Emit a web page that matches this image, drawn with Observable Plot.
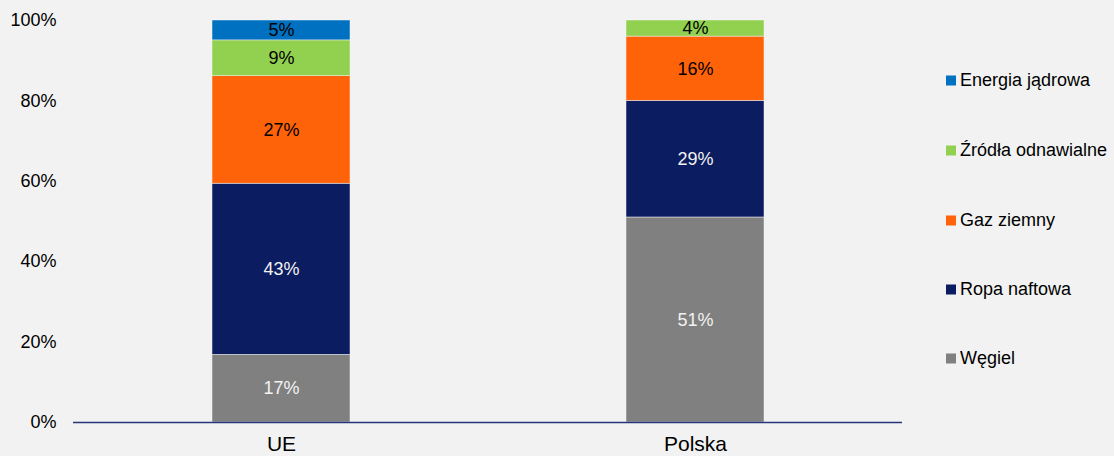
<!DOCTYPE html>
<html>
<head>
<meta charset="utf-8">
<script src="https://cdn.jsdelivr.net/npm/d3@7"></script>
<script src="https://cdn.jsdelivr.net/npm/@observablehq/plot@0.6"></script>
<style>
  html, body { margin: 0; padding: 0; background: #f2f2f2; }
  #wrap { position: relative; width: 1114px; height: 456px; font-family: "Liberation Sans", Arial, sans-serif; }
  #chart { position: absolute; left: 0; top: 0; }
  #legend { position: absolute; left: 946px; top: 0; }
  .item { position: absolute; left: 0; display: flex; align-items: center; white-space: nowrap; font-size: 18px; color: #000; transform: translateY(-50%); }
  .sw { width: 10px; height: 10px; margin-right: 4px; }
</style>
</head>
<body>
<div id="wrap"><div id="chart"></div><div id="legend"></div></div>
<script>
const regions = ["UE", "Polska"];
const sources = ["Węgiel", "Ropa naftowa", "Gaz ziemny", "Źródła odnawialne", "Energia jądrowa"];
const colors = ["#808080", "#0b1c60", "#ff6309", "#92d050", "#0070c0"];
const ueValues = [17, 43, 27, 9, 5];
const plValues = [51, 29, 16, 4, 0];
const yTicks = [0, 0.2, 0.4, 0.6, 0.8, 1];
const legendOrder = ["Energia jądrowa", "Źródła odnawialne", "Gaz ziemny", "Ropa naftowa", "Węgiel"];

const rows = [];
sources.forEach((s, i) => {
  rows.push({region: regions[0], source: s, value: ueValues[i]});
});
sources.forEach((s, i) => {
  rows.push({region: regions[1], source: s, value: plValues[i]});
});
const data = rows.filter(d => d.value > 0);
const light = new Set(["Węgiel", "Ropa naftowa"]);

const stackOpts = {offset: "normalize", order: null};
const chart = Plot.plot({
  width: 920,
  height: 456,
  marginLeft: 73,
  marginRight: 18,
  marginTop: 20,
  marginBottom: 34,
  style: {background: "transparent", fontFamily: "Liberation Sans, Arial, sans-serif", fontSize: "18px", color: "#000"},
  x: {domain: regions, paddingInner: 0.667, paddingOuter: 0.3335, label: null},
  y: {domain: [0, 1], label: null},
  color: {domain: sources, range: colors},
  marks: [
    Plot.axisY({ticks: yTicks, tickFormat: d3.format(".0%"), tickSize: 0, tickPadding: 17, fontSize: 18, label: null}),
    Plot.axisX({tickSize: 0, tickPadding: 14, fontSize: 21, label: null}),
    Plot.barY(data, Plot.stackY(stackOpts, {x: "region", y: "value", z: "source", fill: "source", stroke: "#f2f2f2", strokeWidth: 0.5})),
    Plot.text(data, Plot.stackY(stackOpts, {x: "region", y: "value", z: "source", text: d => light.has(d.source) ? d.value + "%" : "", fill: "#f2f2f2", fontSize: 18})),
    Plot.text(data, Plot.stackY(stackOpts, {x: "region", y: "value", z: "source", text: d => light.has(d.source) ? "" : d.value + "%", fill: "#000", fontSize: 18})),
    Plot.ruleY([0], {stroke: "#26367a", strokeWidth: 1.5})
  ]
});
document.getElementById("chart").appendChild(chart);

const legend = document.getElementById("legend");
const legendY = [80, 150, 220, 289, 358];
legendOrder.forEach((s, i) => {
  const it = document.createElement("div");
  it.className = "item";
  it.style.top = legendY[i] + "px";
  const sw = document.createElement("span");
  sw.className = "sw";
  sw.style.background = colors[sources.indexOf(s)];
  const t = document.createElement("span");
  t.textContent = s;
  it.appendChild(sw);
  it.appendChild(t);
  legend.appendChild(it);
});
</script>
</body>
</html>
